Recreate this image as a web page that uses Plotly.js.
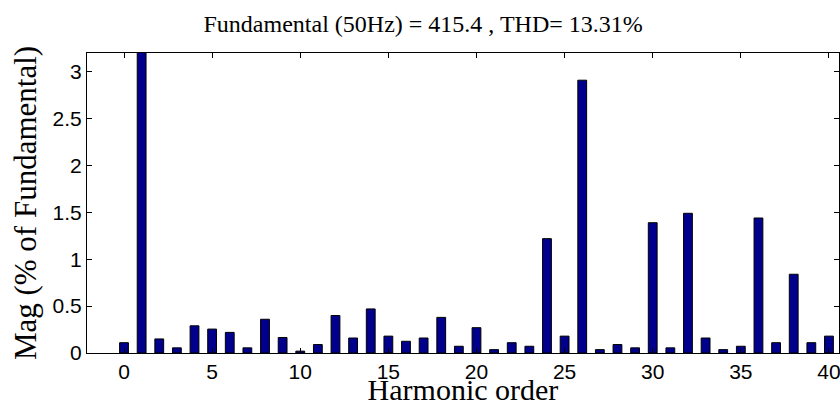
<!DOCTYPE html>
<html>
<head>
<meta charset="utf-8">
<script src="https://cdn.plot.ly/plotly-3.0.1.min.js"></script>
<style>html,body{margin:0;padding:0;background:#fff;}#chart{width:840px;height:406px;}</style>
</head>
<body>
<div id="chart"></div>
<script>
// Harmonic orders 0..40
const harmonicOrder = [0,1,2,3,4,5,6,7,8,9,10,11,12,13,14,15,16,17,18,19,20,21,22,23,24,25,26,27,28,29,30,31,32,33,34,35,36,37,38,39,40];
// Magnitude (% of fundamental); harmonic 1 exceeds the axis top and is clipped
const magnitude = [0.11,3.25,0.15,0.055,0.29,0.255,0.22,0.055,0.36,0.165,0.02,0.09,0.40,
                   0.16,0.47,0.18,0.125,0.16,0.38,0.072,0.27,0.036,0.11,0.072,1.22,0.18,2.91,
                   0.036,0.09,0.055,1.39,0.055,1.49,0.16,0.036,0.072,1.44,0.11,0.84,0.11,0.18];
const xTickVals = [0,5,10,15,20,25,30,35,40];
const yTickVals = [0,0.5,1,1.5,2,2.5,3];
const yTickText = ['0','0.5','1','1.5','2','2.5','3'];
const titleText = 'Fundamental (50Hz) = 415.4 , THD= 13.31%';
const xTitle = 'Harmonic order';
const yTitle = 'Mag (% of Fundamental)';

const serif = 'Liberation Serif, Times New Roman, serif';
const sans = 'Liberation Sans, Arial, sans-serif';

const trace = {
  type: 'bar',
  x: harmonicOrder,
  y: magnitude,
  width: 0.5,
  marker: {color: '#00008c', line: {color: '#000000', width: 1}},
  hoverinfo: 'x+y'
};

const layout = {
  width: 840, height: 406,
  margin: {l: 87, r: 1, t: 53, b: 53, pad: 0},
  paper_bgcolor: '#ffffff', plot_bgcolor: '#ffffff',
  showlegend: false,
  title: {text: titleText, font: {family: serif, size: 24, color: '#000'},
          x: 0.447, xref: 'paper', xanchor: 'center', y: 0.943, yref: 'container', yanchor: 'middle'},
  xaxis: {
    range: [-2.1, 40.57], tickvals: xTickVals, ticks: 'inside', ticklen: 5, tickcolor: '#000',
    showline: true, linecolor: '#000', linewidth: 1, mirror: 'ticks', showgrid: false, zeroline: false,
    ticklabeloverflow: 'allow',
    tickfont: {family: sans, size: 21, color: '#000'},
    title: {text: xTitle, font: {family: serif, size: 30, color: '#000'}, standoff: 0}
  },
  yaxis: {
    range: [0, 3.2], tickvals: yTickVals, ticktext: yTickText, ticks: 'inside', ticklen: 5, tickcolor: '#000',
    showline: true, linecolor: '#000', linewidth: 1, mirror: 'ticks', showgrid: false, zeroline: false,
    tickfont: {family: sans, size: 21, color: '#000'},
    title: {text: yTitle, font: {family: serif, size: 31, color: '#000'}, standoff: 6}
  },
  bargap: 0
};

Plotly.newPlot('chart', [trace], layout, {displayModeBar: false, staticPlot: true});
</script>
</body>
</html>
